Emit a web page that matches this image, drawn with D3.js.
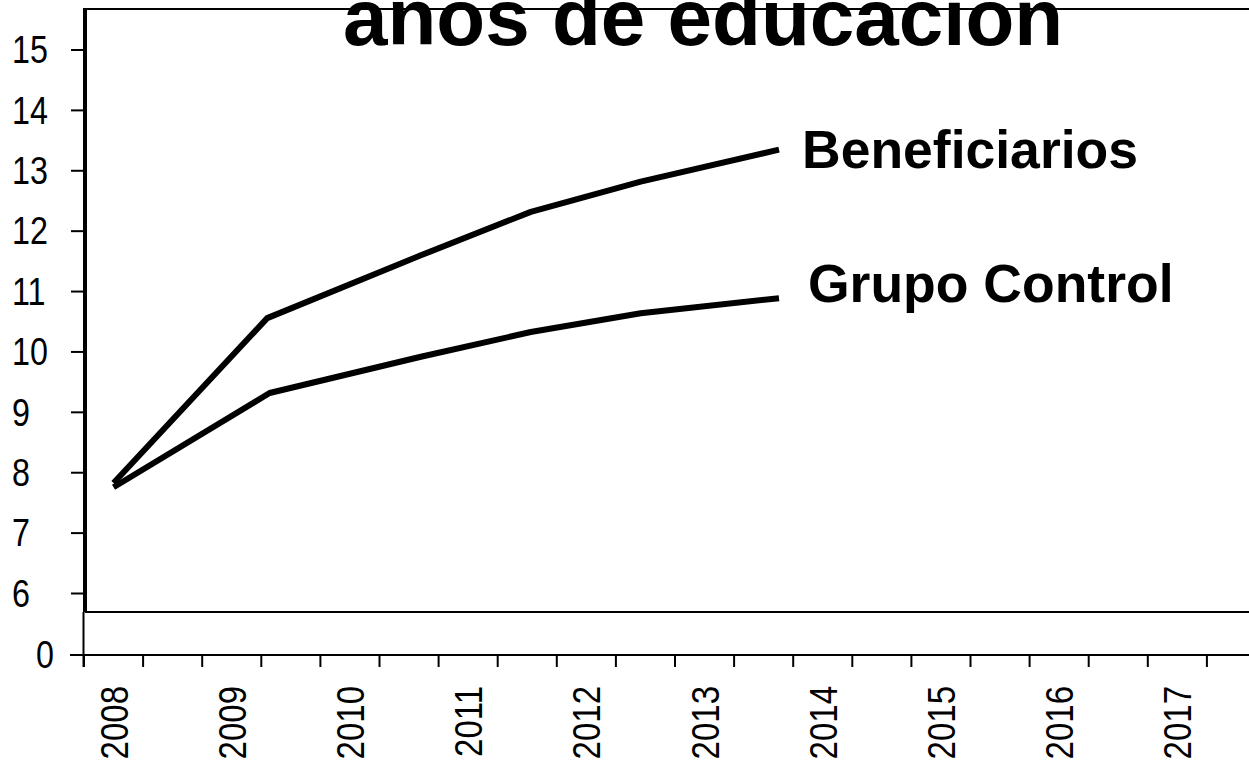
<!DOCTYPE html>
<html>
<head>
<meta charset="utf-8">
<script src="https://cdn.jsdelivr.net/npm/d3@7"></script>
<style>
  html, body { margin: 0; padding: 0; background: #fff; overflow: hidden; }
  svg { display: block; }
</style>
</head>
<body>
<svg id="chart" width="1249" height="763"></svg>
<script>
// ---- data ----
const titleText = "años de educación";
const periods = ["2008","2008-II","2009","2009-II","2010","2010-II","2011","2011-II","2012","2012-II",
                 "2013","2013-II","2014","2014-II","2015","2015-II","2016","2016-II","2017","2017-II"];
const yearLabels = ["2008","2009","2010","2011","2012","2013","2014","2015","2016","2017"];
const yTickValues = [0, 6, 7, 8, 9, 10, 11, 12, 13, 14, 15];
const seriesNames = ["Beneficiarios", "Grupo Control"];
const benYears   = [2008.0, 2009.3, 2010.6, 2011.53, 2012.46, 2013.63];
const benValues  = [7.83, 10.56, 11.6, 12.32, 12.82, 13.35];
const ctrlYears  = [2008.0, 2009.32, 2010.6, 2011.53, 2012.46, 2013.63];
const ctrlValues = [7.76, 9.32, 9.92, 10.33, 10.64, 10.89];

// ---- scales ----
const svg = d3.select("#chart");
const x = d3.scaleBand().domain(periods).range([84, 1266]).padding(0);
const bw = x.bandwidth();
const xYear = d3.scaleLinear().domain([2008, 2017]).range([x("2008") + bw / 2, x("2017") + bw / 2]);
const y = d3.scaleLinear().domain([0, 6, 15]).range([655, 593.5, 50]);

// ---- frame (broken axis box) ----
svg.append("line").attr("x1", 85).attr("x2", 1249).attr("y1", 9).attr("y2", 9)
  .attr("stroke", "#000").attr("stroke-width", 2);
svg.append("line").attr("x1", 85).attr("x2", 1249).attr("y1", 612).attr("y2", 612)
  .attr("stroke", "#000").attr("stroke-width", 2);
svg.append("line").attr("x1", 85).attr("x2", 85).attr("y1", 8).attr("y2", 612)
  .attr("stroke", "#000").attr("stroke-width", 4);
svg.append("line").attr("x1", 83.5).attr("x2", 83.5).attr("y1", 612).attr("y2", 667)
  .attr("stroke", "#000").attr("stroke-width", 2);

// ---- y ticks & labels ----
const yt = svg.append("g");
yt.selectAll("line").data(yTickValues).join("line")
  .attr("x1", 71).attr("x2", 85)
  .attr("y1", d => y(d)).attr("y2", d => y(d))
  .attr("stroke", "#000").attr("stroke-width", 2);
yt.selectAll("text").data(yTickValues).join("text")
  .attr("transform", d => `translate(${d === 0 ? 54 : 12},${y(d)}) scale(0.95,1.12)`)
  .attr("dy", "0.35em")
  .attr("text-anchor", d => d === 0 ? "end" : "start")
  .attr("font-family", "Liberation Sans, Arial, sans-serif")
  .attr("font-size", 34)
  .text(d => d);

// ---- x axis ----
svg.append("line").attr("x1", 70).attr("x2", 1249).attr("y1", y(0)).attr("y2", y(0))
  .attr("stroke", "#000").attr("stroke-width", 2);
svg.append("g").selectAll("line").data(periods).join("line")
  .attr("x1", d => x(d)).attr("x2", d => x(d))
  .attr("y1", y(0)).attr("y2", y(0) + 12)
  .attr("stroke", "#000").attr("stroke-width", 2);
svg.append("g").selectAll("text").data(yearLabels).join("text")
  .attr("transform", d => `translate(${x(d) + bw / 2 + 14},686) rotate(-90) scale(1,1.15)`)
  .attr("text-anchor", "end")
  .attr("font-family", "Liberation Sans, Arial, sans-serif")
  .attr("font-size", 33)
  .text(d => d);

// ---- lines ----
const line = d3.line().x(d => xYear(d[0])).y(d => y(d[1]));
const series = [
  d3.zip(benYears, benValues),
  d3.zip(ctrlYears, ctrlValues)
];
svg.append("g").selectAll("path").data(series).join("path")
  .attr("d", line)
  .attr("fill", "none")
  .attr("stroke", "#000")
  .attr("stroke-width", 6)
  .attr("stroke-linejoin", "round")
  .attr("stroke-linecap", "butt");

// ---- series labels ----
const labelPos = [[802, 168], [808, 302]];
svg.append("g").selectAll("text").data(seriesNames).join("text")
  .attr("x", (d, i) => labelPos[i][0])
  .attr("y", (d, i) => labelPos[i][1])
  .attr("font-family", "Liberation Sans, Arial, sans-serif")
  .attr("font-weight", "bold")
  .attr("font-size", 53.5)
  .text(d => d);

// ---- title ----
svg.append("text")
  .attr("x", 343).attr("y", 45)
  .attr("font-family", "Liberation Sans, Arial, sans-serif")
  .attr("font-weight", "bold")
  .attr("font-size", 80)
  .text(titleText);
</script>
</body>
</html>
